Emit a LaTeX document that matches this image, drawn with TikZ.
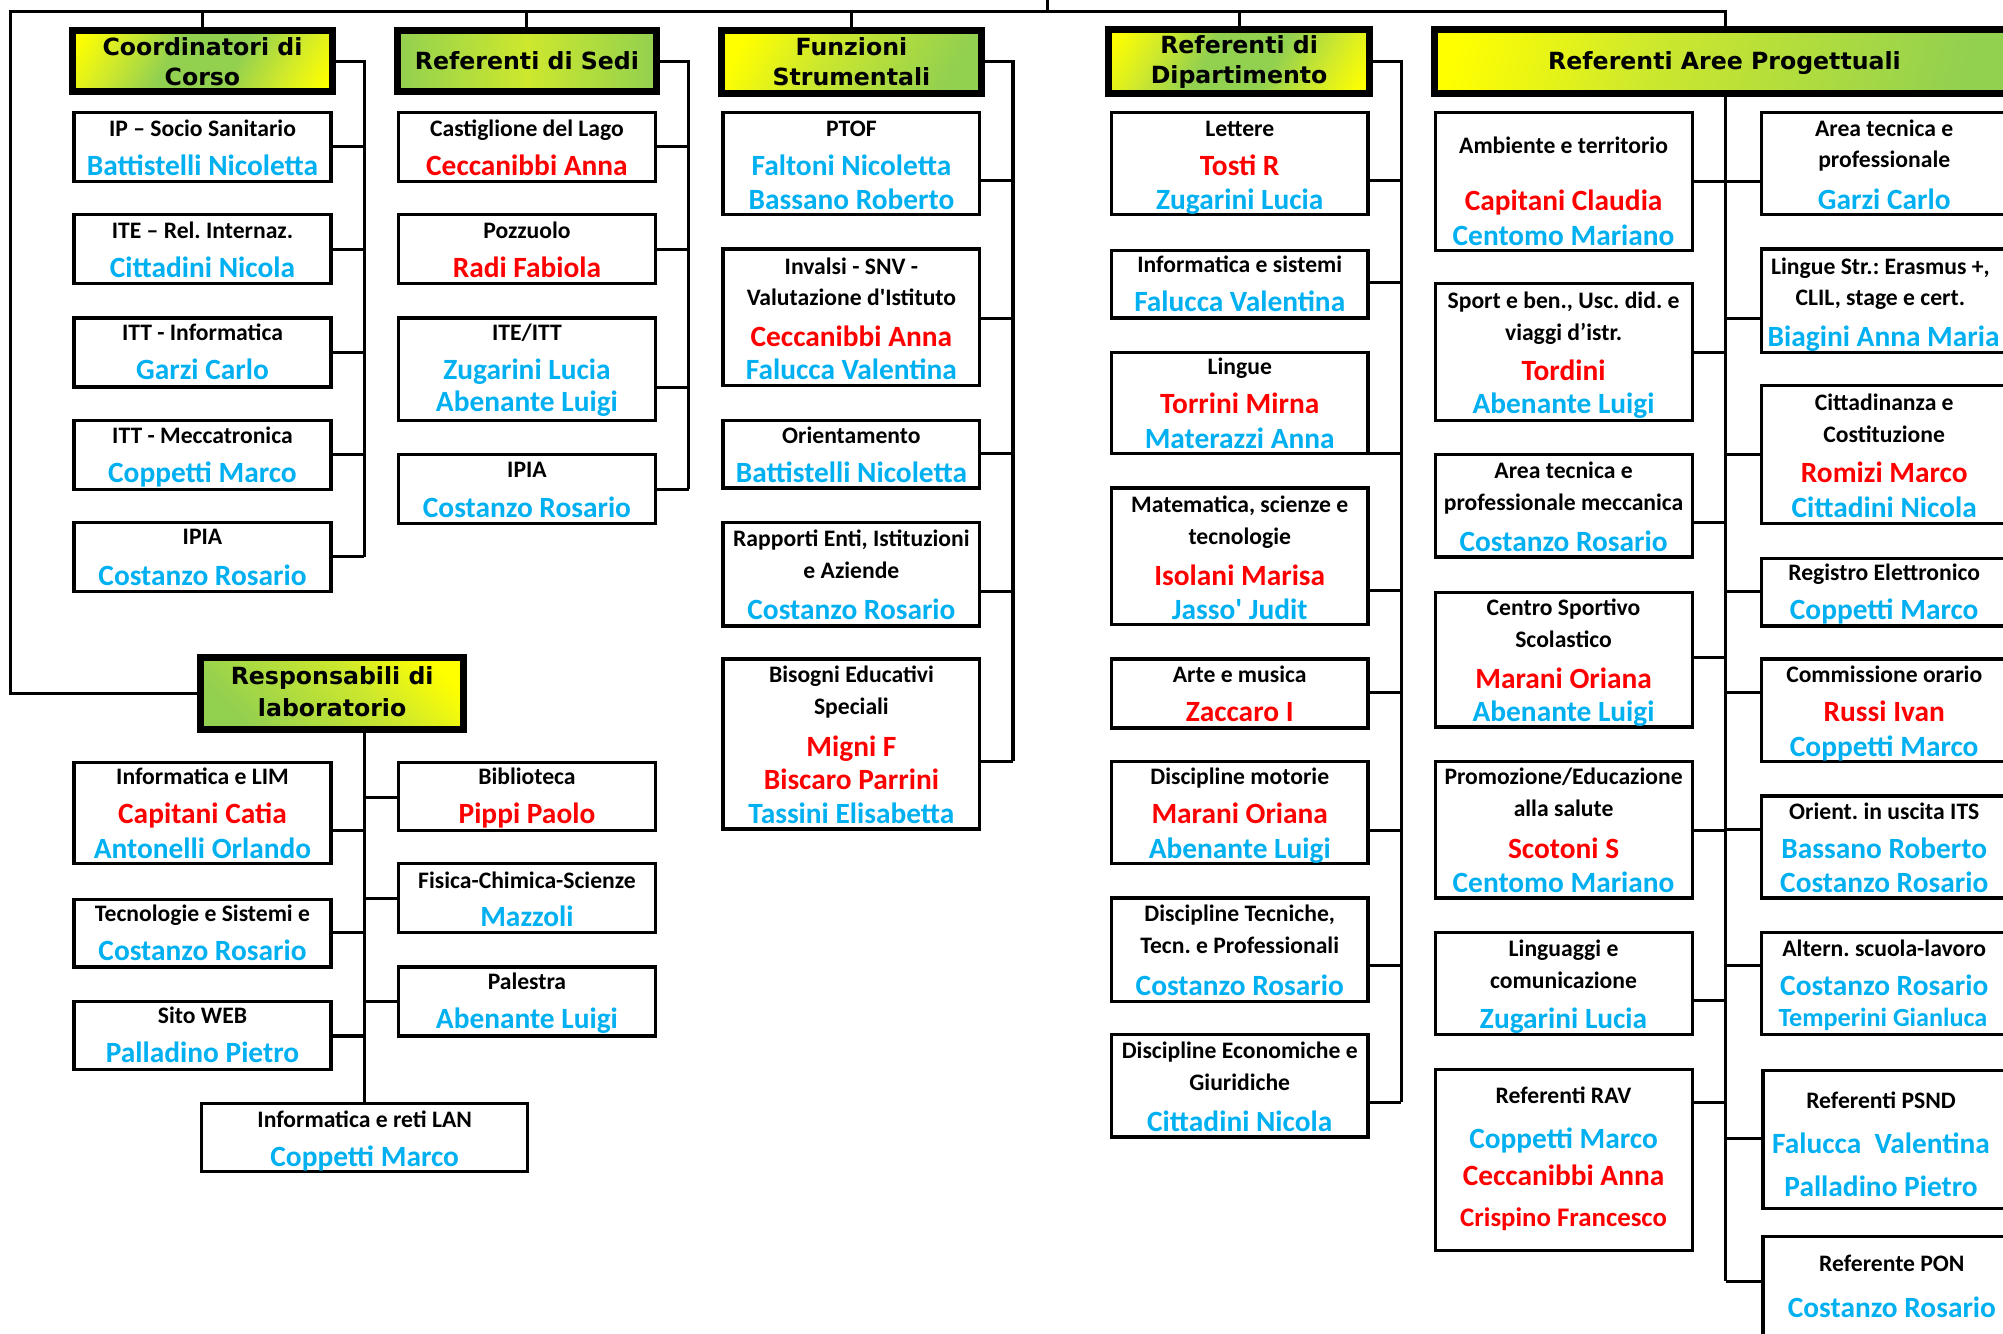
\documentclass[tikz,border=0pt]{standalone}
\usepackage{fontspec}
\setmainfont{Carlito}
\newfontfamily\hfont{DejaVu Sans}
\usetikzlibrary{fit}
\definecolor{yel}{RGB}{255,255,0}
\definecolor{grn}{RGB}{146,208,80}
\definecolor{ygm}{RGB}{205,232,45}
\definecolor{nmcyan}{RGB}{0,176,240}
\definecolor{nmred}{RGB}{255,0,0}
\pgfdeclarehorizontalshading{ygy}{100bp}{color(0bp)=(yel); color(18bp)=(yel); color(30bp)=(ygm); color(42bp)=(grn); color(58bp)=(grn); color(70bp)=(ygm); color(82bp)=(yel); color(100bp)=(yel)}
\pgfdeclarehorizontalshading{gyg}{100bp}{color(0bp)=(grn); color(25bp)=(grn); color(50bp)=(ygm); color(75bp)=(grn); color(100bp)=(grn)}
\pgfdeclarehorizontalshading{yg}{100bp}{color(0bp)=(yel); color(22bp)=(yel); color(42bp)=(ygm); color(75bp)=(grn); color(100bp)=(grn)}
\newcounter{tc}
\newcommand\bx[5]{\node[box,fit={(#2,#3) (#4,#5)}] (#1) {};}
\newcommand\tH[3]{\stepcounter{tc}\node[htx] (t\arabic{tc}) at (#1,#2+6.7) {#3};}
\newcommand\tL[3]{\stepcounter{tc}\node[lab] (t\arabic{tc}) at (#1,#2+5.5) {#3};}
\newcommand\tN[4]{\stepcounter{tc}\node[nm,text=#1] (t\arabic{tc}) at (#2,#3+7) {#4};}
\newcommand\cR[3]{\path (#3,#2) coordinate (bp); \draw[conn] (#1.east |- bp) -- (bp);}
\newcommand\cL[3]{\path (#3,#2) coordinate (bp); \draw[conn] (bp) -- (#1.west |- bp);}
\begin{document}
\frenchspacing
\begin{tikzpicture}[x=1pt,y=-1pt,
  box/.style={draw, line width=2.6pt, inner sep=0pt, fill=white},
  hdr/.style={draw, shade, line width=5.5pt, inner sep=0pt},
  htx/.style={font=\hfont\bfseries\fontsize{18.5}{22}\selectfont, anchor=base, inner sep=0pt},
  conn/.style={draw, line width=2.4pt, line join=miter},
  lab/.style={font=\bfseries\fontsize{18.5}{22}\selectfont, anchor=base, inner sep=0pt},
  nm/.style={font=\bfseries\fontsize{23}{26}\selectfont, anchor=base, inner sep=0pt}]
\useasboundingbox (0,0) rectangle (1568,1044);
\fill[white] (0,0) rectangle (1568,1044);
\clip (0,0) rectangle (1568,1044);

% ---------- headers ----------
\node[hdr,shading=ygy,shading angle=-30,fit={(57,24) (260,72)}] (h1) {};
\node[hdr,shading=gyg,shading angle=0,fit={(311,24) (514,72)}] (h2) {};
\node[hdr,shading=yg,shading angle=-30,fit={(565,24) (768,73)}] (h3) {};
\node[hdr,shading=ygy,shading angle=-30,fit={(868,23) (1072,73)}] (h4) {};
\node[hdr,shading=yg,shading angle=-15,fit={(1123,23) (1579,73)}] (h5) {};
\node[hdr,shading=yg,shading angle=-135,fit={(157,515) (363,571)}] (h7) {};
\tH{158.5}{37}{Coordinatori di} \tH{158.5}{60}{Corso}
\tH{412.5}{48}{Referenti di Sedi}
\tH{666.5}{37}{Funzioni} \tH{666.5}{60}{Strumentali}
\tH{970}{35}{Referenti di} \tH{970}{58.5}{Dipartimento}
\tH{1350}{48}{Referenti Aree Progettuali}
\tH{260}{529}{Responsabili di} \tH{260}{554}{laboratorio}

% ---------- top connectors ----------
\coordinate (tl) at (8,9);
\coordinate (tr) at (1351,9);
\coordinate (tp) at (820,0);
\draw[conn] (tp) -- (tp |- tl);
\draw[conn] (h7.west) -- (h7.west -| tl) -- (tl) -- (tr) -- (h5.north);
\foreach \h in {h1,h2,h3,h4} \draw[conn] (\h.north) -- (\h.north |- tl);

% ---------- buses ----------
\coordinate (b1t) at (285,48);  \coordinate (b1b) at (285,436);
\coordinate (b2t) at (539,48);  \coordinate (b2b) at (539,383);
\coordinate (b3t) at (793,48);  \coordinate (b3b) at (793,596);
\coordinate (b4t) at (1097,48); \coordinate (b4b) at (1097,863);
\coordinate (b5b) at (1351,1003);
\draw[conn] (h1.east |- b1t) -- (b1t) -- (b1b);
\draw[conn] (h2.east |- b2t) -- (b2t) -- (b2b);
\draw[conn] (h3.east |- b3t) -- (b3t) -- (b3b);
\draw[conn] (h4.east |- b4t) -- (b4t) -- (b4b);
\draw[conn] (h5.south) -- (b5b);

% ---------- column 1: Coordinatori ----------
\bx{c1a}{58}{88}{259}{142}  \tL{158.5}{101}{IP – Socio Sanitario} \tN{nmcyan}{158.5}{130}{Battistelli Nicoletta}
\bx{c1b}{58}{168}{259}{222} \tL{158.5}{181}{ITE – Rel. Internaz.} \tN{nmcyan}{158.5}{210}{Cittadini Nicola}
\bx{c1c}{58}{249}{259}{303} \tL{158.5}{261}{ITT - Informatica} \tN{nmcyan}{158.5}{290}{Garzi Carlo}
\bx{c1d}{58}{329}{259}{383} \tL{158.5}{342}{ITT - Meccatronica} \tN{nmcyan}{158.5}{371}{Coppetti Marco}
\bx{c1e}{58}{409}{259}{463} \tL{158.5}{421}{IPIA} \tN{nmcyan}{158.5}{451}{Costanzo Rosario}
\cR{c1a}{115}{285} \cR{c1b}{195}{285} \cR{c1c}{276}{285} \cR{c1d}{356}{285} \cR{c1e}{436}{285}

% ---------- column 2: Sedi ----------
\bx{c2a}{312}{88}{513}{142}  \tL{412.5}{101}{Castiglione del Lago} \tN{nmred}{412.5}{130}{Ceccanibbi Anna}
\bx{c2b}{312}{168}{513}{222} \tL{412.5}{181}{Pozzuolo} \tN{nmred}{412.5}{210}{Radi Fabiola}
\bx{c2c}{312}{249}{513}{329} \tL{412.5}{261}{ITE/ITT} \tN{nmcyan}{412.5}{290}{Zugarini Lucia} \tN{nmcyan}{412.5}{315}{Abenante Luigi}
\bx{c2d}{312}{356}{513}{410} \tL{412.5}{368}{IPIA} \tN{nmcyan}{412.5}{398}{Costanzo Rosario}
\cR{c2a}{115}{539} \cR{c2b}{195}{539} \cR{c2c}{303}{539} \cR{c2d}{383}{539}

% ---------- column 3: Funzioni ----------
\bx{c3a}{566}{88}{767}{168} \tL{666.5}{101}{PTOF} \tN{nmcyan}{666.5}{130}{Faltoni Nicoletta} \tN{nmcyan}{666.5}{157}{Bassano Roberto}
\bx{c3b}{566}{195}{767}{302} \tL{666.5}{209}{Invalsi - SNV -} \tL{666.5}{234}{Valutazione d\textquotesingle Istituto} \tN{nmred}{666.5}{264}{Ceccanibbi Anna} \tN{nmcyan}{666.5}{290}{Falucca Valentina}
\bx{c3c}{566}{329}{767}{382} \tL{666.5}{342}{Orientamento} \tN{nmcyan}{666.5}{371}{Battistelli Nicoletta}
\bx{c3d}{566}{409}{767}{490} \tL{666.5}{422}{Rapporti Enti, Istituzioni} \tL{666.5}{447}{e Aziende} \tN{nmcyan}{666.5}{478}{Costanzo Rosario}
\bx{c3e}{566}{516}{767}{649} \tL{666.5}{529}{Bisogni Educativi} \tL{666.5}{554}{Speciali} \tN{nmred}{666.5}{585}{Migni F} \tN{nmred}{666.5}{611}{Biscaro Parrini} \tN{nmcyan}{666.5}{638}{Tassini Elisabetta}
\cR{c3a}{141}{793} \cR{c3b}{249}{793} \cR{c3c}{355}{793} \cR{c3d}{463}{793} \cR{c3e}{596}{793}

% ---------- column 4: Dipartimento ----------
\bx{c4a}{870}{88}{1071}{168} \tL{970.5}{101}{Lettere} \tN{nmred}{970.5}{130}{Tosti R} \tN{nmcyan}{970.5}{157}{Zugarini Lucia}
\bx{c4b}{870}{196}{1071}{249} \tL{970.5}{208}{Informatica e sistemi} \tN{nmcyan}{970.5}{237}{Falucca Valentina}
\bx{c4c}{870}{276}{1071}{355} \tL{970.5}{288}{Lingue} \tN{nmred}{970.5}{317}{Torrini Mirna} \tN{nmcyan}{970.5}{344}{Materazzi Anna}
\bx{c4d}{870}{382}{1071}{489} \tL{970.5}{396}{Matematica, scienze e} \tL{970.5}{421}{tecnologie} \tN{nmred}{970.5}{451}{Isolani Marisa} \tN{nmcyan}{970.5}{478}{Jasso\textquotesingle\ Judit}
\bx{c4e}{870}{516}{1071}{570} \tL{970.5}{529}{Arte e musica} \tN{nmred}{970.5}{558}{Zaccaro I}
\bx{c4f}{870}{596}{1071}{676} \tL{970.5}{609}{Discipline motorie} \tN{nmred}{970.5}{638}{Marani Oriana} \tN{nmcyan}{970.5}{665}{Abenante Luigi}
\bx{c4g}{870}{703}{1071}{784} \tL{970.5}{716}{Discipline Tecniche,} \tL{970.5}{741}{Tecn. e Professionali} \tN{nmcyan}{970.5}{772}{Costanzo Rosario}
\bx{c4h}{870}{810}{1071}{890} \tL{970.5}{823}{Discipline Economiche e} \tL{970.5}{848}{Giuridiche} \tN{nmcyan}{970.5}{879}{Cittadini Nicola}
\cR{c4a}{141}{1097} \cR{c4b}{221}{1097} \cR{c4c}{355}{1097} \cR{c4d}{462}{1097} \cR{c4e}{542}{1097} \cR{c4f}{650}{1097} \cR{c4g}{756}{1097} \cR{c4h}{863}{1097}

% ---------- column 5: Aree (left) ----------
\bx{c5a}{1123.5}{88}{1325}{196} \tL{1224}{115}{Ambiente e territorio} \tN{nmred}{1224}{158}{Capitani Claudia} \tN{nmcyan}{1224}{185}{Centomo Mariano}
\bx{c5b}{1123.5}{222}{1325}{329} \tL{1224}{236}{Sport e ben., Usc. did. e} \tL{1224}{261}{viaggi d’istr.} \tN{nmred}{1224}{291}{Tordini} \tN{nmcyan}{1224}{317}{Abenante Luigi}
\bx{c5c}{1123.5}{356}{1325}{436} \tL{1224}{369}{Area tecnica e} \tL{1224}{394}{professionale meccanica} \tN{nmcyan}{1224}{425}{Costanzo Rosario}
\bx{c5d}{1123.5}{464}{1325}{569} \tL{1224}{476}{Centro Sportivo} \tL{1224}{501}{Scolastico} \tN{nmred}{1224}{532}{Marani Oriana} \tN{nmcyan}{1224}{558}{Abenante Luigi}
\bx{c5e}{1123.5}{596}{1325}{703} \tL{1224}{609}{Promozione/Educazione} \tL{1224}{634}{alla salute} \tN{nmred}{1224}{665}{Scotoni S} \tN{nmcyan}{1224}{692}{Centomo Mariano}
\bx{c5f}{1123.5}{730}{1325}{810} \tL{1224}{743}{Linguaggi e} \tL{1224}{768}{comunicazione} \tN{nmcyan}{1224}{798}{Zugarini Lucia}
\bx{c5g}{1123.5}{837}{1325}{979} \tL{1224}{858}{Referenti RAV} \tN{nmcyan}{1224}{892}{Coppetti Marco} \tN{nmred}{1224}{921}{Ceccanibbi Anna}
\stepcounter{tc}\node[nm,text=nmred,font=\bfseries\fontsize{21}{24}\selectfont] (t\arabic{tc}) at (1224,954+6.5) {Crispino Francesco};
\cR{c5a}{142}{1351} \cR{c5b}{276}{1351} \cR{c5c}{409}{1351} \cR{c5d}{515}{1351} \cR{c5e}{650}{1351} \cR{c5f}{783}{1351} \cR{c5g}{863}{1351}

% ---------- column 6: Aree (right) ----------
\bx{c6a}{1379}{88}{1585}{168} \tL{1475}{101}{Area tecnica e} \tL{1475}{126}{professionale} \tN{nmcyan}{1475}{157}{Garzi Carlo}
\bx{c6b}{1379}{195}{1585}{276} \tL{1472}{209}{Lingue Str.: Erasmus +,} \tL{1472}{234}{CLIL, stage e cert.} \tN{nmcyan}{1474.5}{264}{Biagini Anna Maria}
\bx{c6c}{1379}{302}{1585}{410} \tL{1475}{316}{Cittadinanza e} \tL{1475}{341}{Costituzione} \tN{nmred}{1475}{371}{Romizi Marco} \tN{nmcyan}{1475}{398}{Cittadini Nicola}
\bx{c6d}{1379}{437}{1585}{490} \tL{1475}{449}{Registro Elettronico} \tN{nmcyan}{1475}{478}{Coppetti Marco}
\bx{c6e}{1379}{516}{1585}{596} \tL{1475}{529}{Commissione orario} \tN{nmred}{1475}{558}{Russi Ivan} \tN{nmcyan}{1475}{585}{Coppetti Marco}
\bx{c6f}{1379}{623}{1585}{703} \tL{1475}{636}{Orient. in uscita ITS} \tN{nmcyan}{1475}{665}{Bassano Roberto} \tN{nmcyan}{1475}{692}{Costanzo Rosario}
\bx{c6g}{1379}{730}{1585}{810} \tL{1475}{743}{Altern. scuola-lavoro} \tN{nmcyan}{1475}{772}{Costanzo Rosario}
\stepcounter{tc}\node[nm,text=nmcyan,font=\bfseries\fontsize{20.5}{23}\selectfont] (t\arabic{tc}) at (1474,797+6.2) {Temperini Gianluca};
\bx{c6h}{1380}{838}{1585}{946} \tL{1472.5}{862}{Referenti PSND} \tN{nmcyan}{1472.5}{896}{Falucca\ \ Valentina} \tN{nmcyan}{1472.5}{930}{Palladino Pietro}
\bx{c6i}{1380}{968}{1585}{1070} \tL{1481}{990}{Referente PON} \tN{nmcyan}{1481}{1024}{Costanzo Rosario}
\cL{c6a}{142}{1351} \cL{c6b}{249}{1351} \cL{c6c}{356}{1351} \cL{c6d}{463}{1351} \cL{c6e}{542}{1351} \cL{c6f}{649}{1351} \cL{c6g}{756}{1351} \cL{c6h}{891}{1351} \cL{c6i}{1003}{1351}

% ---------- Responsabili di laboratorio ----------
\bx{c7a}{58}{597}{259}{676} \tL{158.5}{609}{Informatica e LIM} \tN{nmred}{158.5}{638}{Capitani Catia} \tN{nmcyan}{158.5}{665}{Antonelli Orlando}
\bx{c7b}{58}{704}{259}{757} \tL{158.5}{716}{Tecnologie e Sistemi e} \tN{nmcyan}{158.5}{745}{Costanzo Rosario}
\bx{c7c}{58}{784}{259}{837} \tL{158.5}{796}{Sito WEB} \tN{nmcyan}{158.5}{825}{Palladino Pietro}
\bx{c8a}{312}{597}{513}{650} \tL{412.5}{609}{Biblioteca} \tN{nmred}{412.5}{638}{Pippi Paolo}
\bx{c8b}{312}{676}{513}{730} \tL{412.5}{690}{Fisica-Chimica-Scienze} \tN{nmcyan}{412.5}{718}{Mazzoli}
\bx{c8c}{312}{757}{513}{811} \tL{412.5}{769}{Palestra} \tN{nmcyan}{412.5}{798}{Abenante Luigi}
\bx{c9}{158}{864}{413}{917} \tL{285.5}{877}{Informatica e reti LAN} \tN{nmcyan}{285.5}{906}{Coppetti Marco}
\draw[conn] (c9.north) -- (c9.north |- h7.south);
\cR{c7a}{650}{285.5} \cR{c7b}{730}{285.5} \cR{c7c}{811}{285.5}
\cL{c8a}{624}{285.5} \cL{c8b}{703}{285.5} \cL{c8c}{784}{285.5}
\end{tikzpicture}
\end{document}
